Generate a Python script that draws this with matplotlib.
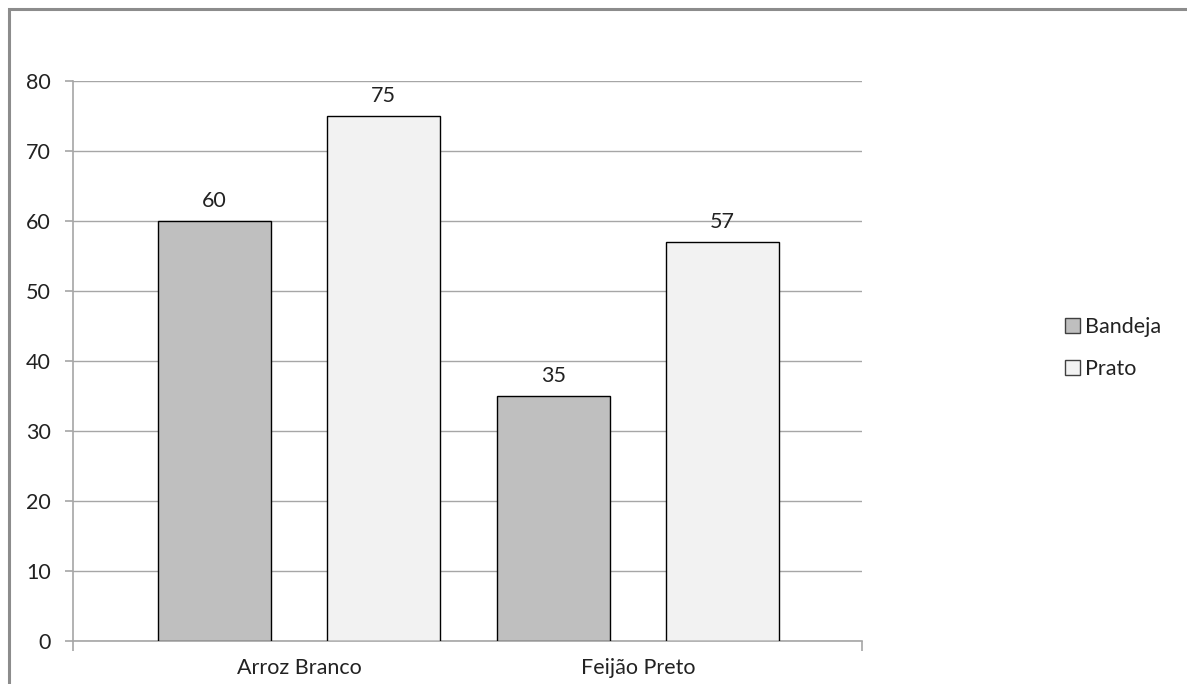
import matplotlib.pyplot as plt
from matplotlib.patches import Rectangle

plt.rcParams['font.family'] = ['Lato', 'DejaVu Sans']

categories = ['Arroz Branco', 'Feijão Preto']
series_names = ['Bandeja', 'Prato']
bandeja = [60, 35]
prato = [75, 57]
colors = ['#BFBFBF', '#F2F2F2']
yticks = [0, 10, 20, 30, 40, 50, 60, 70, 80]

fs = 15.5

fig = plt.figure(figsize=(11.87, 6.84), dpi=100)
ax = fig.add_axes([73 / 1187, 43 / 684, 789 / 1187, 560 / 684])

# gray chart-area border (cut off at right and bottom like the screenshot)
fig.patches.append(Rectangle((9 / 1187, -0.1), 1.2, (675 / 684) + 0.1,
                             transform=fig.transFigure, fill=False,
                             edgecolor='#8C8C8C', linewidth=2.2))

x = list(range(len(categories)))
w = 1 / 3
off = 0.25
bars1 = ax.bar([i - off for i in x], bandeja, w, color=colors[0],
               edgecolor='black', linewidth=1, zorder=3, label=series_names[0])
bars2 = ax.bar([i + off for i in x], prato, w, color=colors[1],
               edgecolor='black', linewidth=1, zorder=3, label=series_names[1])

for bars in (bars1, bars2):
    for b in bars:
        ax.annotate(f'{int(b.get_height())}',
                    (b.get_x() + b.get_width() / 2, b.get_height()),
                    xytext=(0, 7), textcoords='offset points',
                    ha='center', va='bottom', fontsize=fs, color='#222222')

ax.set_ylim(0, 80)
ax.set_xlim(-0.667, 1.661)
ax.set_yticks(yticks)
ax.set_xticks(x)
ax.set_xticklabels(categories)
ax.yaxis.grid(True, color='#A6A6A6', linewidth=1, zorder=0)
ax.set_axisbelow(True)

for s in ['top', 'right']:
    ax.spines[s].set_visible(False)
for s in ['left', 'bottom']:
    ax.spines[s].set_color('#A6A6A6')
    ax.spines[s].set_linewidth(1.2)

ax.tick_params(axis='y', length=6, width=1.2, color='#A6A6A6', pad=10,
               labelsize=fs, labelcolor='#222222')
ax.tick_params(axis='x', length=0, pad=12, labelsize=fs, labelcolor='#222222')
ax.set_xticks([-0.667, 1.661], minor=True)
ax.tick_params(axis='x', which='minor', length=7, width=1.2, color='#A6A6A6')

handles = [Rectangle((0, 0), 1, 1, facecolor=c, edgecolor='#404040', linewidth=1)
           for c in colors]
fig.legend(handles, series_names, loc='center left',
           bbox_to_anchor=(1046 / 1187, 1 - 348 / 684), frameon=False,
           fontsize=fs, handlelength=0.7, handleheight=0.7,
           handletextpad=0.2, labelspacing=1.05, labelcolor='#222222')

fig.savefig('out.png', dpi=100)
